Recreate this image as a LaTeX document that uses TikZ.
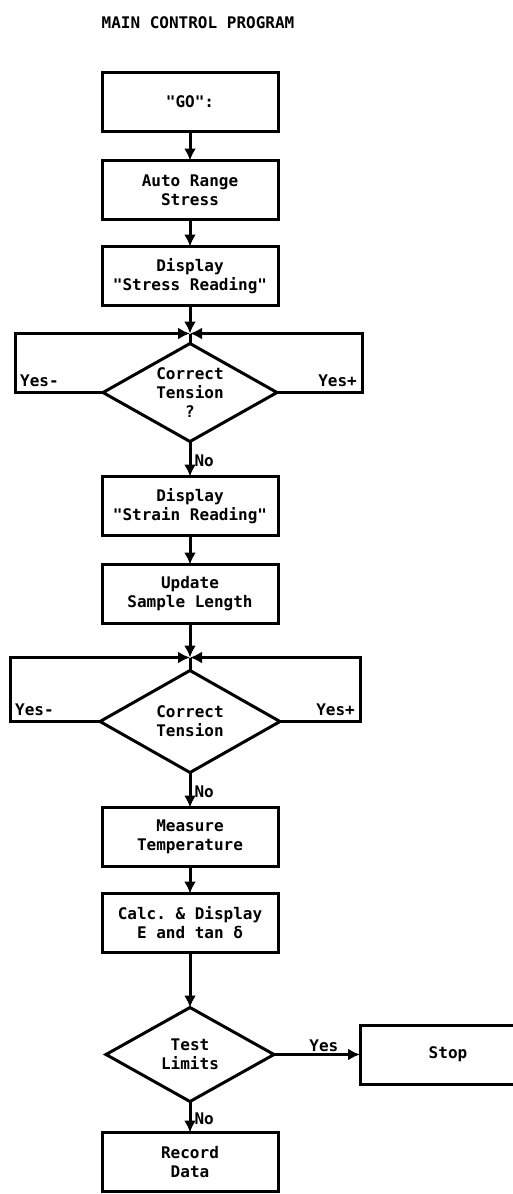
\documentclass[tikz,border=0pt]{standalone}
\usepackage{fontspec}
\setmonofont{DejaVu Sans Mono}[BoldFont={DejaVu Sans Mono Bold}]
\usepackage{tikz}
\usetikzlibrary{arrows.meta,positioning,shapes.geometric}

\begin{document}
\begin{tikzpicture}[
  x=1pt,y=1pt,
  font=\ttfamily\bfseries\fontsize{16}{19}\selectfont,
  box/.style={draw,line width=3pt,outer sep=0pt,minimum width=176pt,minimum height=59pt,align=center,inner sep=2pt},
  decision/.style={draw,diamond,aspect=1.8,line width=3pt,outer sep=0pt,minimum width=174pt,minimum height=98pt,align=center,inner sep=0pt},
  flow/.style={line width=3pt,-{Latex[length=12pt,width=12pt]}},
  link/.style={line width=3pt},
  lab/.style={inner sep=1pt}
]
\useasboundingbox (0,0) rectangle (513,-1194);

\node (title) at (198,-23) {MAIN CONTROL PROGRAM};

\node[box] (go) at (190,-102) {"GO":};
\node[box] (auto) [below=29pt of go] {Auto Range\\Stress};
\node[box] (stress) [below=27pt of auto] {Display\\"Stress Reading"};
\node[decision] (ct1) [below=38pt of stress] {Correct\\Tension\\?};
\node[box] (strain) [below=35pt of ct1] {Display\\"Strain Reading"};
\node[box] (update) [below=29pt of strain] {Update\\Sample Length};
\node[decision,minimum width=180pt,minimum height=102pt] (ct2) [below=47pt of update] {Correct\\Tension};
\node[box] (measure) [below=35pt of ct2] {Measure\\Temperature};
\node[box] (calc) [below=27pt of measure] {Calc. \& Display\\E and tan δ};
\node[decision,minimum width=168pt,minimum height=94pt] (limits) [below=55pt of calc] {Test\\Limits};
\node[box] (record) [below=31pt of limits] {Record\\Data};
\node[box] (stop) [right=86pt of limits] {Stop};

% first tension check, loops back on yes
\coordinate[above=10pt of ct1.north] (j1);
\coordinate[left=88pt of ct1.west] (l1);
\coordinate[right=85pt of ct1.east] (r1);
\node[lab] (ym1) [above right=5pt and 4pt of l1] {Yes-};
\node[lab] (yp1) [above left=5pt and 4pt of r1] {Yes+};

% second tension check
\coordinate[above=13pt of ct2.north] (j2);
\coordinate[left=90pt of ct2.west] (l2);
\coordinate[right=80pt of ct2.east] (r2);
\node[lab] (ym2) [above right=5pt and 4pt of l2] {Yes-};
\node[lab] (yp2) [above left=5pt and 4pt of r2] {Yes+};

\draw[flow] (go)--(auto);
\draw[flow] (auto)--(stress);
\draw[flow] (stress)--(j1);
\draw[link] (j1)--(ct1);
\draw[flow] (ct1.west)--(l1)|-(j1);
\draw[flow] (ct1.east)--(r1)|-(j1);
\draw[flow] (ct1)--node[lab,right,pos=0.55,xshift=2pt] (no1) {No} (strain);
\draw[flow] (strain)--(update);
\draw[flow] (update)--(j2);
\draw[link] (j2)--(ct2);
\draw[flow] (ct2.west)--(l2)|-(j2);
\draw[flow] (ct2.east)--(r2)|-(j2);
\draw[flow] (ct2)--node[lab,right,pos=0.55,xshift=2pt] (no2) {No} (measure);
\draw[flow] (measure)--(calc);
\draw[flow] (calc)--(limits);
\draw[flow] (limits)--node[lab,above,pos=0.58] (yes) {Yes} (stop);
\draw[flow] (limits)--node[lab,right,pos=0.55,xshift=2pt] (no3) {No} (record);
\end{tikzpicture}
\end{document}
